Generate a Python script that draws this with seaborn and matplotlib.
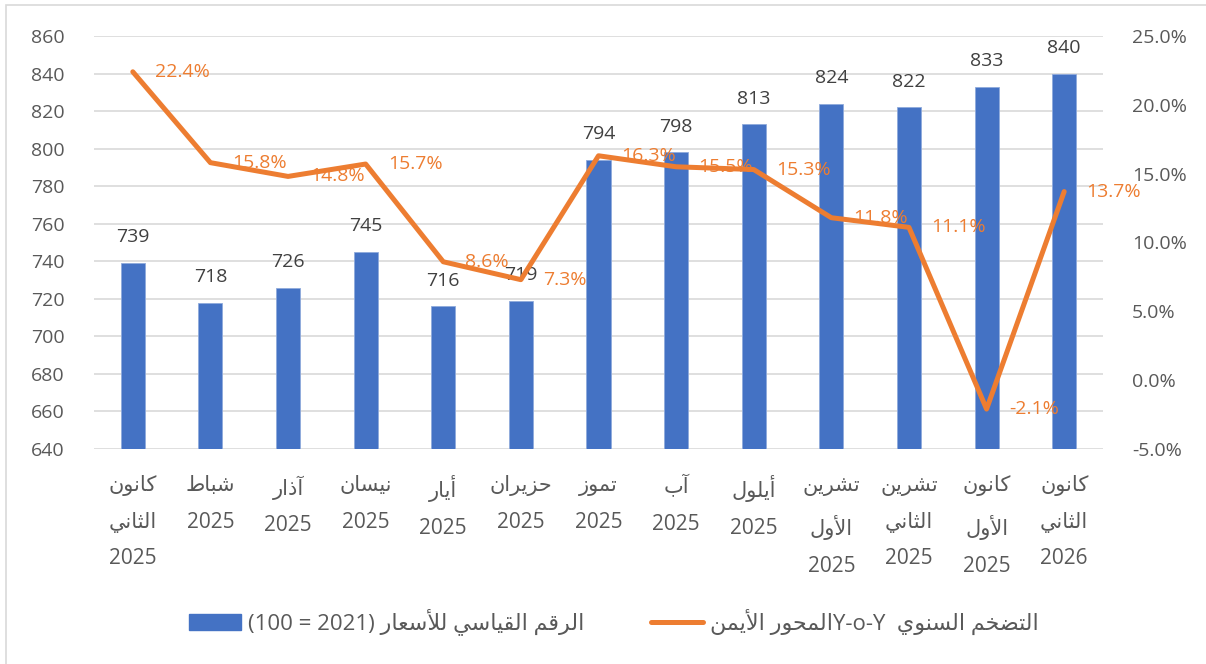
import numpy as np
import pandas as pd
import matplotlib
matplotlib.use('Agg')
import matplotlib.pyplot as plt
import matplotlib.patches as mpatches
import seaborn as sns

# Arabic month names (logical order) and years
months = ['كانون الثاني', 'شباط', 'آذار', 'نيسان', 'أيار', 'حزيران', 'تموز',
          'آب', 'أيلول', 'تشرين الأول', 'تشرين الثاني', 'كانون الأول', 'كانون الثاني']
years = ['2025'] * 12 + ['2026']

cpi = [739, 718, 726, 745, 716, 719, 794, 798, 813, 824, 822, 833, 840]
inflation = [22.4, 15.8, 14.8, 15.7, 8.6, 7.3, 16.3, 15.5, 15.3, 11.8, 11.1, -2.1, 13.7]

bar_name = 'الرقم القياسي للأسعار'
bar_note = '(100 = 2021)'
line_name_a = 'التضخم السنوي'
line_name_b = 'المحور الأيمن'

# --- minimal arabic shaping (matplotlib has no text shaping / bidi) ---
FORMS = {
    'ا': ('\uFE8D', '\uFE8E'), 'أ': ('\uFE83', '\uFE84'), 'آ': ('\uFE81', '\uFE82'),
    'ب': ('\uFE8F', '\uFE90', '\uFE91', '\uFE92'),
    'ت': ('\uFE95', '\uFE96', '\uFE97', '\uFE98'),
    'ث': ('\uFE99', '\uFE9A', '\uFE9B', '\uFE9C'),
    'ح': ('\uFEA1', '\uFEA2', '\uFEA3', '\uFEA4'),
    'خ': ('\uFEA5', '\uFEA6', '\uFEA7', '\uFEA8'),
    'ذ': ('\uFEAB', '\uFEAC'),
    'ر': ('\uFEAD', '\uFEAE'),
    'ز': ('\uFEAF', '\uFEB0'),
    'س': ('\uFEB1', '\uFEB2', '\uFEB3', '\uFEB4'),
    'ش': ('\uFEB5', '\uFEB6', '\uFEB7', '\uFEB8'),
    'ض': ('\uFEBD', '\uFEBE', '\uFEBF', '\uFEC0'),
    'ط': ('\uFEC1', '\uFEC2', '\uFEC3', '\uFEC4'),
    'ع': ('\uFEC9', '\uFECA', '\uFECB', '\uFECC'),
    'ق': ('\uFED5', '\uFED6', '\uFED7', '\uFED8'),
    'ك': ('\uFED9', '\uFEDA', '\uFEDB', '\uFEDC'),
    'ل': ('\uFEDD', '\uFEDE', '\uFEDF', '\uFEE0'),
    'م': ('\uFEE1', '\uFEE2', '\uFEE3', '\uFEE4'),
    'ن': ('\uFEE5', '\uFEE6', '\uFEE7', '\uFEE8'),
    'و': ('\uFEED', '\uFEEE'),
    'ي': ('\uFEF1', '\uFEF2', '\uFEF3', '\uFEF4'),
}
LAM_ALEF = {'ا': ('\uFEFB', '\uFEFC'), 'أ': ('\uFEF7', '\uFEF8'), 'آ': ('\uFEF5', '\uFEF6')}


def shape(text):
    tokens = []
    i = 0
    while i < len(text):
        c = text[i]
        if c == 'ل' and i + 1 < len(text) and text[i + 1] in LAM_ALEF:
            tokens.append(LAM_ALEF[text[i + 1]])
            i += 2
        else:
            tokens.append(FORMS.get(c, (c,)))
            i += 1
    out = []
    for k, f in enumerate(tokens):
        if len(f) == 1:
            out.append(f[0])
            continue
        prev_j = k > 0 and len(tokens[k - 1]) == 4
        next_j = len(f) == 4 and k + 1 < len(tokens) and len(tokens[k + 1]) >= 2
        if prev_j and next_j:
            out.append(f[3])
        elif prev_j:
            out.append(f[1])
        elif next_j:
            out.append(f[2])
        else:
            out.append(f[0])
    return ''.join(out)


def ar(text):
    return shape(text)[::-1]


labels = ['\n'.join([ar(w) for w in m.split(' ')] + [y]) for m, y in zip(months, years)]

sns.set_style('white')
plt.rcParams['font.family'] = ['Open Sans', 'DejaVu Sans']

df = pd.DataFrame({'label': labels, 'cpi': cpi, 'inf': inflation, 'pos': np.arange(len(cpi))})

fig = plt.figure(figsize=(12.06, 6.64), dpi=100)
ax = fig.add_axes([94 / 1206, 1 - 449 / 664, (1103 - 94) / 1206, (449 - 36) / 664])

sns.barplot(data=df, x='label', y='cpi', color='#4472C4', width=0.31, ax=ax,
            edgecolor='#8FAADC', linewidth=0.6, saturation=1)
ax.set_ylim(640, 860)
ax.set_yticks(range(640, 861, 20))
ax.set_xlim(-0.5, len(cpi) - 0.5)
ax.bar_label(ax.containers[0], fmt='%d', padding=12, fontsize=14, color='#404040')
ax.yaxis.grid(True, color='#D9D9D9', lw=1.2)
ax.set_axisbelow(True)
ax.set_xlabel('')
ax.set_ylabel('')
ax.tick_params(axis='y', length=0, pad=21, labelsize=14, labelcolor='#595959')
ax.tick_params(axis='x', length=0, pad=19, labelsize=15, labelcolor='#595959')
for t in ax.get_xticklabels():
    t.set_linespacing(1.95)
for s in ax.spines.values():
    s.set_visible(False)

ax2 = ax.twinx()
sns.lineplot(data=df, x='pos', y='inf', color='#ED7D31', lw=3.6, ax=ax2, sort=False,
             solid_joinstyle='round', solid_capstyle='round')
ax2.set_ylim(-5, 25)
ax2.set_yticks(range(-5, 26, 5))
ax2.set_yticklabels([f'{v:.1f}%' for v in range(-5, 26, 5)])
ax2.set_ylabel('')
ax2.tick_params(axis='y', length=0, pad=21, labelsize=14, labelcolor='#595959')
ax2.grid(False)
for s in ax2.spines.values():
    s.set_visible(False)
for x, v in zip(df['pos'], inflation):
    ax2.annotate(f'{v:.1f}%', (x, v), xytext=(16, 0), textcoords='offset points',
                 ha='left', va='center', fontsize=14, color='#ED7D31')

bar_handle = mpatches.Patch(color='#4472C4')
line_handle = plt.Line2D([], [], color='#ED7D31', lw=3.6, solid_capstyle='round')
bar_text = bar_note + ' ' + ar(bar_name)
line_text = ar(line_name_b) + 'Y-o-Y  ' + ar(line_name_a)
fig.legend([bar_handle, line_handle], [bar_text, line_text], loc='center',
           bbox_to_anchor=(614 / 1206, 1 - 622 / 664), ncol=2, frameon=False,
           fontsize=16, labelcolor='#595959', handlelength=2.35, handletextpad=0.3,
           columnspacing=3.0)

fig.patches.append(mpatches.Rectangle((6 / 1206, -0.05), 1.1, 1 - 5 / 664 + 0.05,
                                      transform=fig.transFigure, fill=False,
                                      edgecolor='#D9D9D9', lw=1.2))

fig.savefig('out.png', dpi=100)
